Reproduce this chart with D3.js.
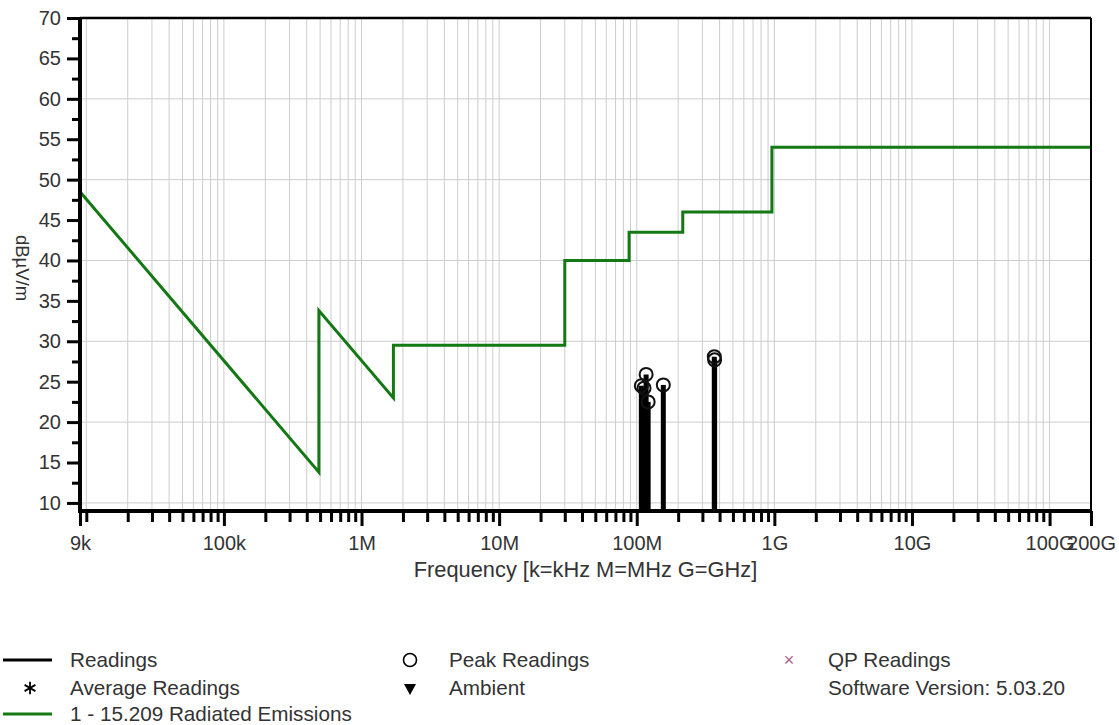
<!DOCTYPE html>
<html lang="en">
  <head>
    <meta charset="utf-8">
    <title>Radiated Emissions</title>
    <style>
      body {
        margin: 0;
        background: #fff;
        font-family: "Liberation Sans", Arial, sans-serif;
      }
      .tick text {
        font-family: "Liberation Sans", Arial, sans-serif;
        font-size: 20px;
        fill: #333;
      }
      .tick line {
        stroke: #000;
        stroke-width: 3;
      }
      .grid line {
        stroke: #cdcdcd;
        stroke-width: 1;
      }
      .legend text {
        font-size: 20.7px;
        fill: #333;
      }
    </style>
  </head>
  <body>
    <svg id="chart" width="1119" height="725"></svg>

    <script src="https://d3js.org/d3.v7.min.js"></script>
    <script>
      // limit line: FCC 15.209 radiated emissions (Hz, dBuV/m)
      const limitFreq = [9e3, 490e3, 490e3, 1.705e6, 1.705e6, 30e6, 30e6, 88e6, 88e6, 216e6, 216e6, 960e6, 960e6, 200e9];
      const limitLevel = [48.5, 13.8, 33.8, 23.0, 29.5, 29.5, 40, 40, 43.5, 43.5, 46, 46, 54, 54];

      // measured readings (Hz, dBuV/m)
      const readingFreq = [108e6, 113e6, 117e6, 121e6, 156e6, 366e6, 368e6];
      const peakLevel = [24.5, 24.2, 25.9, 22.5, 24.6, 28.1, 27.7];

      // axis ticks
      const xTickValues = [9e3, 1e5, 1e6, 1e7, 1e8, 1e9, 1e10, 1e11, 2e11];
      const xTickLabels = ["9k", "100k", "1M", "10M", "100M", "1G", "10G", "100G", "200G"];
      const yTickValues = [10, 15, 20, 25, 30, 35, 40, 45, 50, 55, 60, 65, 70];
      const yGridValues = [10, 20, 30, 40, 50, 60];

      const svg = d3.select("#chart");
      const pLeft = 80, pRight = 1091, pTop = 18, pBottom = 511;

      const x = d3.scaleLog().domain([9e3, 2e11]).range([pLeft, pRight]);
      const y = d3.scaleLinear().domain([9, 70]).range([pBottom, pTop]);

      // minor positions 1..9 x 10^n inside the domain
      const minorX = [];
      for (let e = 3; e <= 11; e++) {
        for (let m = 1; m <= 9; m++) {
          const v = m * Math.pow(10, e);
          if (v > 9e3 && v < 2e11) minorX.push(v);
        }
      }
      const minorY = d3.range(10, 70, 2.5).filter(v => v % 5 !== 0);

      // grid
      svg.append("g").attr("class", "grid")
        .selectAll("line").data(minorX).enter().append("line")
        .attr("x1", d => x(d)).attr("x2", d => x(d))
        .attr("y1", pTop).attr("y2", pBottom);
      svg.append("g").attr("class", "grid")
        .selectAll("line").data(yGridValues).enter().append("line")
        .attr("x1", pLeft).attr("x2", pRight)
        .attr("y1", d => y(d)).attr("y2", d => y(d));

      // limit line
      const limitData = limitFreq.map((f, i) => [f, limitLevel[i]]);
      svg.append("path")
        .datum(limitData)
        .attr("fill", "none")
        .attr("stroke", "#147814")
        .attr("stroke-width", 3)
        .attr("d", d3.line().x(d => x(d[0])).y(d => y(d[1])));

      // readings: stems + peak circles
      const readings = readingFreq.map((f, i) => ({f: f, v: peakLevel[i]}));
      svg.append("g").selectAll("line").data(readings).enter().append("line")
        .attr("x1", d => x(d.f)).attr("x2", d => x(d.f))
        .attr("y1", pBottom).attr("y2", d => y(d.v))
        .attr("stroke", "#000").attr("stroke-width", 5);
      svg.append("g").selectAll("circle").data(readings).enter().append("circle")
        .attr("cx", d => x(d.f)).attr("cy", d => y(d.v)).attr("r", 6.5)
        .attr("fill", "none").attr("stroke", "#111").attr("stroke-width", 2);

      // frame
      svg.append("line").attr("x1", pLeft).attr("x2", pRight).attr("y1", pTop).attr("y2", pTop)
        .attr("stroke", "#000").attr("stroke-width", 2.5);
      svg.append("line").attr("x1", pRight).attr("x2", pRight).attr("y1", pTop).attr("y2", pBottom)
        .attr("stroke", "#000").attr("stroke-width", 2);

      // x axis
      const xMajor = d3.axisBottom(x).tickValues(xTickValues)
        .tickFormat((d, i) => xTickLabels[i]).tickSize(15).tickPadding(10);
      const xMinor = d3.axisBottom(x).tickValues(minorX.filter(v => !xTickValues.includes(v)))
        .tickFormat("").tickSize(11);
      svg.append("g").attr("transform", `translate(0,${pBottom})`).call(xMinor).call(g => g.select(".domain").remove());
      svg.append("g").attr("transform", `translate(0,${pBottom})`).call(xMajor).call(g => g.select(".domain").remove());

      // y axis
      const yMajor = d3.axisLeft(y).tickValues(yTickValues).tickSize(13).tickPadding(6);
      const yMinor = d3.axisLeft(y).tickValues(minorY).tickFormat("").tickSize(8);
      svg.append("g").attr("transform", `translate(${pLeft},0)`).call(yMinor).call(g => g.select(".domain").remove());
      svg.append("g").attr("transform", `translate(${pLeft},0)`).call(yMajor).call(g => g.select(".domain").remove());

      svg.append("line").attr("x1", pLeft - 1).attr("x2", pRight + 1).attr("y1", pBottom).attr("y2", pBottom)
        .attr("stroke", "#000").attr("stroke-width", 4);
      svg.append("line").attr("x1", pLeft).attr("x2", pLeft).attr("y1", pTop - 1).attr("y2", pBottom + 2)
        .attr("stroke", "#000").attr("stroke-width", 4);

      // axis titles
      svg.append("text")
        .attr("x", (pLeft + pRight) / 2).attr("y", 577)
        .attr("text-anchor", "middle")
        .style("font-size", "21.8px").style("fill", "#333")
        .text("Frequency [k=kHz M=MHz G=GHz]");
      svg.append("text")
        .attr("transform", "translate(16,268) rotate(90)")
        .attr("text-anchor", "middle")
        .style("font-size", "18.5px").style("fill", "#333")
        .text("dBµV/m");

      // legend
      const lg = svg.append("g").attr("class", "legend");
      const rows = [660, 688, 714];
      lg.append("line").attr("x1", 3).attr("x2", 52).attr("y1", rows[0]).attr("y2", rows[0])
        .attr("stroke", "#000").attr("stroke-width", 3);
      lg.append("text").attr("x", 70).attr("y", rows[0] + 7).text("Readings");
      lg.append("path").attr("d", d3.symbol(d3.symbolAsterisk, 110)())
        .attr("transform", `translate(30,${rows[1]})`).attr("stroke", "#000").attr("stroke-width", 1.8);
      lg.append("text").attr("x", 70).attr("y", rows[1] + 7).text("Average Readings");
      lg.append("line").attr("x1", 3).attr("x2", 52).attr("y1", rows[2]).attr("y2", rows[2])
        .attr("stroke", "#147814").attr("stroke-width", 3);
      lg.append("text").attr("x", 70).attr("y", rows[2] + 7).text("1 - 15.209 Radiated Emissions");

      lg.append("circle").attr("cx", 410).attr("cy", rows[0]).attr("r", 6.5)
        .attr("fill", "none").attr("stroke", "#000").attr("stroke-width", 1.6);
      lg.append("text").attr("x", 449).attr("y", rows[0] + 7).text("Peak Readings");
      lg.append("path").attr("d", "M-6,-5L6,-5L0,6Z")
        .attr("transform", `translate(410,${rows[1] + 1})`).attr("fill", "#000");
      lg.append("text").attr("x", 449).attr("y", rows[1] + 7).text("Ambient");

      lg.append("text").attr("x", 789).attr("y", rows[0] + 6).attr("text-anchor", "middle")
        .style("fill", "#b0608a").style("font-size", "18px").text("×");
      lg.append("text").attr("x", 828).attr("y", rows[0] + 7).text("QP Readings");
      lg.append("text").attr("x", 828).attr("y", rows[1] + 7).text("Software Version: 5.03.20");
    </script>
  </body>
</html>
